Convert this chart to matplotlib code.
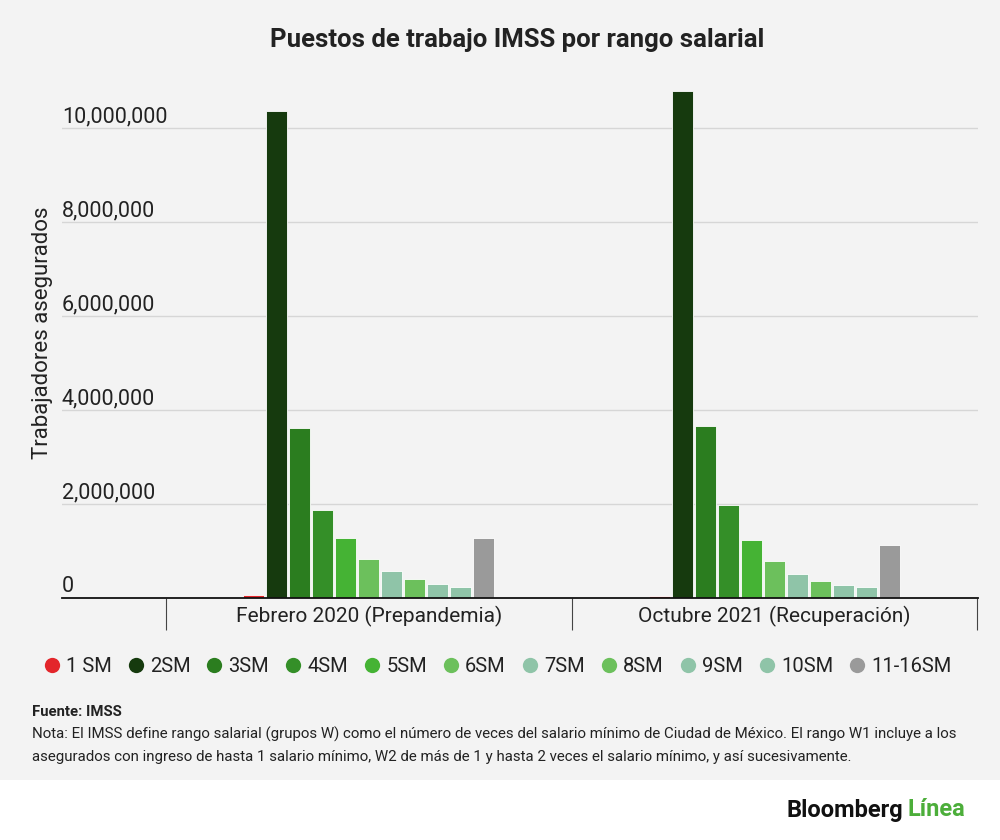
import matplotlib
matplotlib.use("Agg")
import matplotlib.pyplot as plt
from matplotlib.patches import Rectangle
from matplotlib.lines import Line2D
import matplotlib.transforms as mtransforms
import numpy as np

plt.rcParams['font.family'] = ['Roboto', 'DejaVu Sans']

categories = ["Febrero 2020 (Prepandemia)", "Octubre 2021 (Recuperación)"]
series = ["1 SM", "2SM", "3SM", "4SM", "5SM", "6SM", "7SM", "8SM", "9SM", "10SM", "11-16SM"]
feb2020 = [50000, 10360000, 3620000, 1860000, 1270000, 830000, 560000, 390000, 290000, 230000, 1270000]
oct2021 = [40000, 10790000, 3660000, 1970000, 1220000, 790000, 510000, 360000, 270000, 220000, 1120000]
colors = ["#e3262b", "#163a0e", "#2b7d1f", "#348f28", "#45b334", "#6cc05c", "#8fc4a8",
          "#6cc05c", "#8fc4a8", "#8fc4a8", "#9a9a9a"]
yticks = [0, 2000000, 4000000, 6000000, 8000000, 10000000]

BG = "#f3f3f3"
fig = plt.figure(figsize=(10, 8.4), dpi=100, facecolor="white")
fig.patches.append(Rectangle((0, 60/840), 1, 1, transform=fig.transFigure,
                             facecolor=BG, edgecolor="none", zorder=-10))

ax = fig.add_axes([0.062, 1 - 597.7/840, 0.916, 517/840])
ax.set_facecolor(BG)

pitch = 23/406
width = 21/406
data = np.array([feb2020, oct2021])
x = np.arange(len(categories))
for j, name in enumerate(series):
    off = (j - (len(series) - 1) / 2) * pitch
    ax.bar(x + off, data[:, j], width=width, color=colors[j], edgecolor="white",
           linewidth=0.6, zorder=3, label=name)

ax.set_xlim(-0.756, 1.502)
ax.set_ylim(0, 11000000)

for s in ["top", "right", "left"]:
    ax.spines[s].set_visible(False)
ax.spines["bottom"].set_color("#111111")
ax.spines["bottom"].set_linewidth(1.3)
ax.spines["bottom"].set_zorder(4)

ax.set_yticks(yticks)
ax.tick_params(axis="y", left=False, labelleft=False)
ax.yaxis.grid(True, color="#d6d6d6", linewidth=1.0, zorder=0)
trans = mtransforms.blended_transform_factory(ax.transAxes, ax.transData)
for v in yticks:
    ax.text(0.0, v + 10000, f"{v:,}", transform=trans, ha="left", va="bottom",
            fontsize=15.5, color="#222222")

ax.set_xticks(x)
ax.set_xticklabels(categories, fontsize=15, color="#222222")
ax.tick_params(axis="x", which="major", length=0, pad=6)
ax.set_xticks([-0.5, 0.5, 1.5], minor=True)
ax.tick_params(axis="x", which="minor", length=23, width=0.8, color="#444444")

fig.text(0.043, 1 - 333/840, "Trabajadores asegurados", rotation=90, ha="center",
         va="center", fontsize=16, color="#222222")

fig.text(0.517, 1 - 40/840, "Puestos de trabajo IMSS por rango salarial", ha="center",
         va="center", fontsize=18.5, fontweight="bold", color="#222222")

handles = [Line2D([0], [0], marker="o", linestyle="none", markersize=11,
                  markerfacecolor=c, markeredgecolor="none") for c in colors]
fig.legend(handles, series, loc="center", bbox_to_anchor=(0.497, 1 - 667/840),
           ncol=len(series), frameon=False, fontsize=14.5, handletextpad=0.25,
           columnspacing=0.75, handlelength=0.9, labelcolor="#222222")

fig.text(0.032, 1 - 712/840, "Fuente: IMSS", fontsize=10.7, fontweight="bold",
         va="center", color="#222222")
fig.text(0.032, 1 - 734/840,
         "Nota: El IMSS define rango salarial (grupos W) como el número de veces del salario mínimo de Ciudad de México. El rango W1 incluye a los",
         fontsize=10.8, va="center", color="#222222")
fig.text(0.032, 1 - 757/840,
         "asegurados con ingreso de hasta 1 salario mínimo, W2 de más de 1 y hasta 2 veces el salario mínimo, y así sucesivamente.",
         fontsize=10.8, va="center", color="#222222")

t1 = fig.text(0.787, 1 - 810/840, "Bloomberg", fontsize=17, fontweight="bold",
              va="center", ha="left", color="#111111")
fig.canvas.draw()
bb = t1.get_window_extent()
x2 = bb.x1 / fig.bbox.width + 0.004
fig.text(x2, 1 - 810/840, "Línea", fontsize=17, fontweight="bold",
         va="center", ha="left", color="#4cae3a")

fig.savefig("out.png", dpi=100, facecolor=fig.get_facecolor())
